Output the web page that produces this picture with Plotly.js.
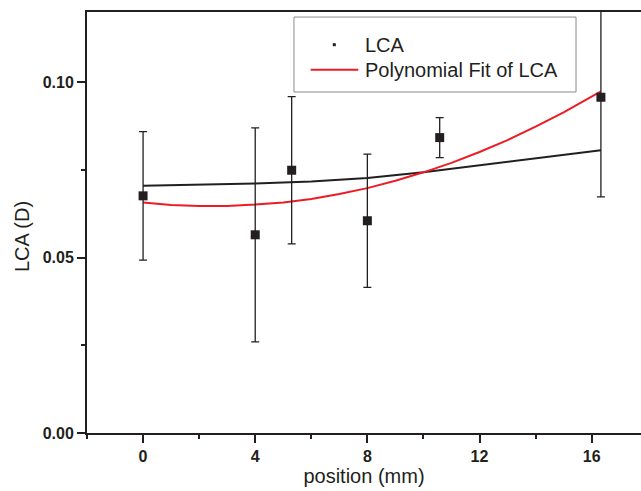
<!DOCTYPE html>
<html>
<head>
<meta charset="utf-8">
<script src="https://cdn.plot.ly/plotly-3.0.1.min.js"></script>
<style>html,body{margin:0;padding:0;background:#fff;}#chart{width:641px;height:491px;}</style>
</head>
<body>
<div id="chart"></div>
<script>
// measured data
var posX = [0, 4, 5.3, 8, 10.58, 16.33];
var lcaY = [0.0676, 0.0565, 0.0749, 0.0605, 0.0842, 0.0957];
var lcaErr = [0.0183, 0.0305, 0.0210, 0.0190, 0.0057, 0.0284];

// red polynomial fit curve
var fitX = [0, 1, 2, 3, 4, 5, 6, 7, 8, 9, 10, 11, 12, 13, 14, 15, 16.33];
var fitY = [0.0657, 0.0650, 0.0647, 0.0647, 0.0651, 0.0657, 0.0667, 0.0681, 0.0698, 0.0719, 0.0743, 0.0770, 0.0801, 0.0835, 0.0873, 0.0914, 0.0974];

// black curve
var blackX = [0, 2, 4, 6, 8, 10, 12, 14, 16.33];
var blackY = [0.0705, 0.0707, 0.0711, 0.0717, 0.0727, 0.0743, 0.0763, 0.0783, 0.0806];

var xTicks = [0, 4, 8, 12, 16];
var yTicks = [0.00, 0.05, 0.10];
var yTickText = ['0.00', '0.05', '0.10'];
var legendNames = ['LCA', 'Polynomial Fit of LCA'];

var dark = '#231f20';
var red = '#ed1c24';
var fontFam = 'Liberation Sans, Arial, sans-serif';

var traces = [
  {x: blackX, y: blackY, mode: 'lines', line: {color: dark, width: 2}, showlegend: false, hoverinfo: 'skip'},
  {x: fitX, y: fitY, mode: 'lines', name: legendNames[1], line: {color: red, width: 2}, showlegend: false},
  {x: posX, y: lcaY, mode: 'markers', name: legendNames[0], showlegend: false,
   marker: {symbol: 'square', size: 9, color: dark},
   error_y: {type: 'data', array: lcaErr, visible: true, color: dark, thickness: 1.3, width: 4}}
];

// legend box (drawn in paper coordinates)
var lgX0 = 0.3736, lgX1 = 0.8827, lgY0 = 0.81, lgY1 = 0.988;
var row1 = 0.9223, row2 = 0.863, textX = 0.4982;

var layout = {
  width: 641, height: 491,
  margin: {l: 87, r: 0, t: 12, b: 58},
  paper_bgcolor: '#fff', plot_bgcolor: '#fff',
  font: {family: fontFam, color: dark},
  showlegend: false,
  shapes: [
    {type: 'rect', xref: 'paper', yref: 'paper', x0: lgX0, x1: lgX1, y0: lgY0, y1: lgY1,
     line: {color: '#8a8a8a', width: 1}, fillcolor: 'rgba(255,255,255,0)'},
    {type: 'line', xref: 'paper', yref: 'paper', x0: 0.4038, x1: 0.4897, y0: row2, y1: row2,
     line: {color: red, width: 2}},
    {type: 'rect', xref: 'paper', yref: 'paper', xsizemode: 'pixel', ysizemode: 'pixel',
     xanchor: 0.4464, yanchor: row1, x0: -1.5, x1: 1.5, y0: -1.5, y1: 1.5,
     line: {width: 0}, fillcolor: dark}
  ],
  annotations: [
    {xref: 'paper', yref: 'paper', x: textX, y: row1, xanchor: 'left', yanchor: 'middle',
     text: legendNames[0], showarrow: false, font: {family: fontFam, size: 20, color: dark}},
    {xref: 'paper', yref: 'paper', x: textX, y: row2, xanchor: 'left', yanchor: 'middle',
     text: legendNames[1], showarrow: false, font: {family: fontFam, size: 20, color: dark}},
    {xref: 'paper', yref: 'paper', x: -0.1173, y: 0.4656, xanchor: 'center', yanchor: 'middle',
     textangle: -90, text: 'LCA (D)', showarrow: false, font: {family: fontFam, size: 20, color: dark}}
  ],
  xaxis: {
    range: [-2, 17.76], showgrid: false, zeroline: false,
    showline: true, linecolor: dark, linewidth: 2, mirror: true,
    ticks: 'outside', ticklen: 8, tickwidth: 2, tickcolor: dark,
    tickvals: xTicks, ticktext: xTicks.map(String),
    tickfont: {family: fontFam, size: 16, color: dark, weight: 'bold'},
    minor: {dtick: 2, tick0: 0, ticks: 'outside', ticklen: 4, tickwidth: 2, tickcolor: dark, showgrid: false},
    title: {text: 'position (mm)', font: {family: fontFam, size: 20, color: dark}, standoff: 4}
  },
  yaxis: {
    range: [0, 0.12], showgrid: false, zeroline: false,
    showline: true, linecolor: dark, linewidth: 2, mirror: false,
    ticks: 'outside', ticklen: 8, tickwidth: 2, tickcolor: dark,
    tickvals: yTicks, ticktext: yTickText,
    tickfont: {family: fontFam, size: 16, color: dark, weight: 'bold'},
    minor: {dtick: 0.025, tick0: 0, ticks: 'outside', ticklen: 4, tickwidth: 2, tickcolor: dark, showgrid: false}
  }
};

Plotly.newPlot('chart', traces, layout, {displayModeBar: false, staticPlot: true});
</script>
</body>
</html>
